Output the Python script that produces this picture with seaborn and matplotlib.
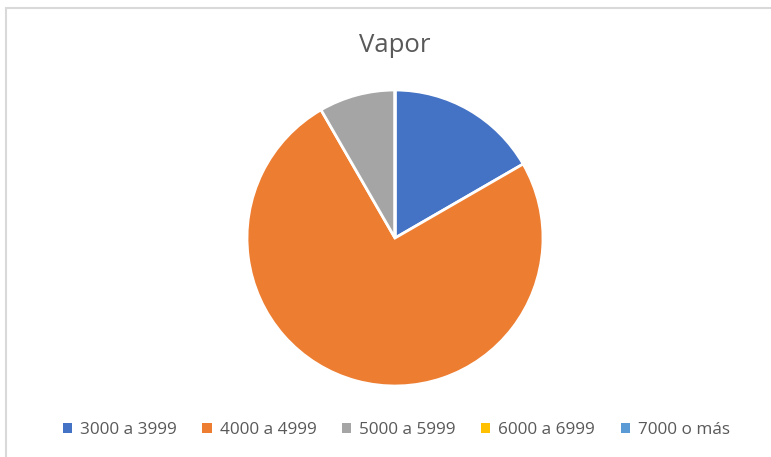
import matplotlib
matplotlib.use("Agg")
import matplotlib.pyplot as plt
import seaborn as sns
from matplotlib.patches import Patch
from matplotlib.lines import Line2D

categories = ["3000 a 3999", "4000 a 4999", "5000 a 5999", "6000 a 6999", "7000 o más"]
values = [2, 9, 1, 0, 0]
colors = ["#4472C4", "#ED7D31", "#A5A5A5", "#FFC000", "#5B9BD5"]
title = "Vapor"

sns.set_theme(style="white")
plt.rcParams['font.family'] = ['Open Sans', 'DejaVu Sans']

W, H = 771, 457
fig = plt.figure(figsize=(W / 100, H / 100), dpi=100)
fig.patch.set_facecolor("white")

# chart frame (top and left edges visible)
fig.add_artist(Line2D([6 / W, 1], [1 - 8 / H, 1 - 8 / H], color="#D9D9D9", lw=1.5))
fig.add_artist(Line2D([6 / W, 6 / W], [0, 1 - 8 / H], color="#D9D9D9", lw=1.5))

cx, cy, r = 395 / W, (H - 238) / H, 148
ax = fig.add_axes([cx - r / W, cy - r / H, 2 * r / W, 2 * r / H])
ax.pie(values, colors=colors, startangle=90, counterclock=False,
       wedgeprops=dict(edgecolor="white", linewidth=2))
ax.set_xlim(-1, 1)
ax.set_ylim(-1, 1)
ax.set_aspect("equal")
ax.axis("off")

fig.text(395 / W, 1 - 45 / H, title, ha="center", va="center",
         fontsize=18.5, color="#595959")

handles = [Patch(facecolor=c, edgecolor="none") for c in colors]
leg = fig.legend(handles, categories, loc="center", bbox_to_anchor=(0.514, 1 - 430 / H),
                 ncol=5, frameon=False, fontsize=12.3, handlelength=0.55, handleheight=0.45,
                 handletextpad=0.45, columnspacing=1.5)
for t in leg.get_texts():
    t.set_color("#595959")

fig.savefig("out.png", dpi=100)
